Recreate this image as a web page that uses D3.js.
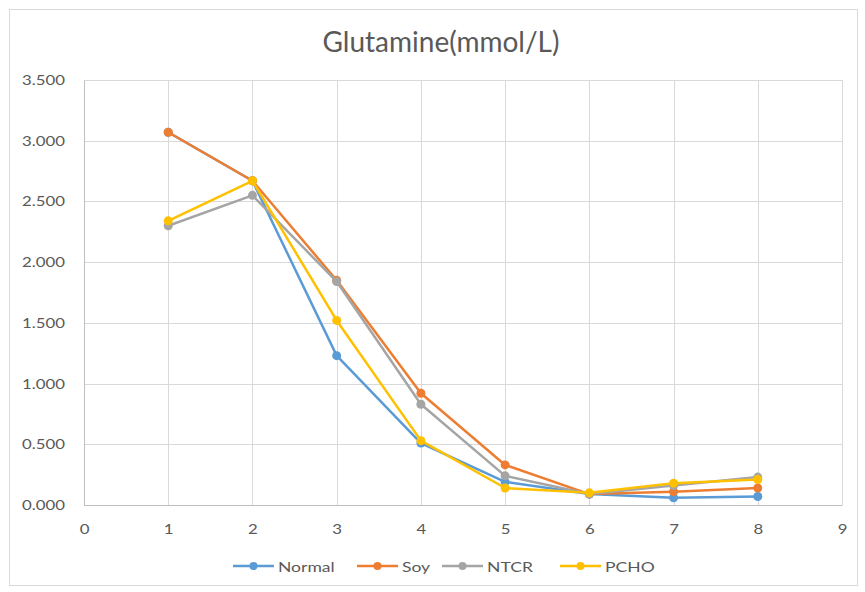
<!DOCTYPE html>
<html><head><meta charset="utf-8">
<script src="https://cdn.jsdelivr.net/npm/d3@7"></script>
<style>html,body{margin:0;padding:0;background:#fff;}</style>
</head><body>
<svg id="c" width="865" height="592"></svg>
<script>
const xValues = [1, 2, 3, 4, 5, 6, 7, 8];
const seriesNames = ["Normal", "Soy", "NTCR", "PCHO"];
const normal = [3.07, 2.67, 1.23, 0.51, 0.19, 0.09, 0.06, 0.07];
const soy    = [3.07, 2.67, 1.85, 0.92, 0.33, 0.09, 0.11, 0.14];
const ntcr   = [2.30, 2.55, 1.84, 0.83, 0.24, 0.09, 0.16, 0.23];
const pcho   = [2.34, 2.67, 1.52, 0.53, 0.14, 0.10, 0.18, 0.21];
const xTicks = [0, 1, 2, 3, 4, 5, 6, 7, 8, 9];
const yTicks = [0, 0.5, 1, 1.5, 2, 2.5, 3, 3.5];
const colors = ["#5B9BD5", "#ED7D31", "#A5A5A5", "#FFC000"];
const title = "Glutamine(mmol/L)";

const svg = d3.select("#c");
const font = "Lato, 'Open Sans', sans-serif";
const sx = 1.2;
svg.append("rect").attr("x", 9.5).attr("y", 9.5).attr("width", 848).attr("height", 576)
  .attr("fill", "#fff").attr("stroke", "#d9d9d9");

const x = d3.scaleLinear().domain([0, 9]).range([84, 842]);
const y = d3.scaleLinear().domain([0, 3.5]).range([505, 80]);

// gridlines
svg.append("g").selectAll("line").data(yTicks).join("line")
  .attr("x1", x(0)).attr("x2", x(9)).attr("y1", d => Math.round(y(d)) + 0.5).attr("y2", d => Math.round(y(d)) + 0.5)
  .attr("stroke", "#d9d9d9").attr("stroke-width", 1);
svg.append("g").selectAll("line").data(xTicks).join("line")
  .attr("y1", y(0)).attr("y2", y(3.5)).attr("x1", d => Math.round(x(d)) + 0.5).attr("x2", d => Math.round(x(d)) + 0.5)
  .attr("stroke", "#d9d9d9").attr("stroke-width", 1);

// axes
const yAxis = d3.axisLeft(y).tickValues(yTicks).tickFormat(d3.format(".3f")).tickSize(0).tickPadding(19);
const gy = svg.append("g").attr("transform", `translate(${x(0)},0)`).call(yAxis);
gy.select(".domain").attr("stroke", "#bfbfbf");
gy.selectAll("text").attr("font-family", font).attr("font-size", 14).attr("fill", "#595959")
  .attr("x", -19 / sx).attr("transform", `scale(${sx},1)`);

const xAxis = d3.axisBottom(x).tickValues(xTicks).tickFormat(d3.format("d")).tickSize(0).tickPadding(19);
const gx = svg.append("g").attr("transform", `translate(0,${y(0)})`).call(xAxis);
gx.select(".domain").attr("stroke", "#bfbfbf");
gx.selectAll("text").attr("font-family", font).attr("font-size", 14).attr("fill", "#595959")
  .attr("transform", `scale(${sx},1)`);

// title
svg.append("text").attr("x", 441).attr("y", 52).attr("text-anchor", "middle")
  .attr("font-family", font).attr("font-size", 28).attr("fill", "#595959").text(title);

// series
const allSeries = [normal, soy, ntcr, pcho];
const line = d3.line().x((d, i) => x(xValues[i])).y(d => y(d));
allSeries.forEach((vals, si) => {
  const g = svg.append("g");
  g.append("path").datum(vals).attr("d", line).attr("fill", "none")
    .attr("stroke", colors[si]).attr("stroke-width", 2.5).attr("stroke-linejoin", "round");
  g.selectAll("circle").data(vals).join("circle")
    .attr("cx", (d, i) => x(xValues[i])).attr("cy", d => y(d)).attr("r", 4.5)
    .attr("fill", colors[si]);
});

// legend
const legendX = [233, 357, 442, 560];
const legend = svg.append("g");
seriesNames.forEach((name, i) => {
  const lx = legendX[i];
  legend.append("line").attr("x1", lx).attr("x2", lx + 41).attr("y1", 566).attr("y2", 566)
    .attr("stroke", colors[i]).attr("stroke-width", 2.5);
  legend.append("circle").attr("cx", lx + 20.5).attr("cy", 566).attr("r", 4).attr("fill", colors[i]);
  legend.append("text").attr("transform", `translate(${lx + 45},571.5) scale(1.3,1)`)
    .attr("font-family", font).attr("font-size", 13.5).attr("fill", "#595959").text(name);
});
</script>
</body></html>
